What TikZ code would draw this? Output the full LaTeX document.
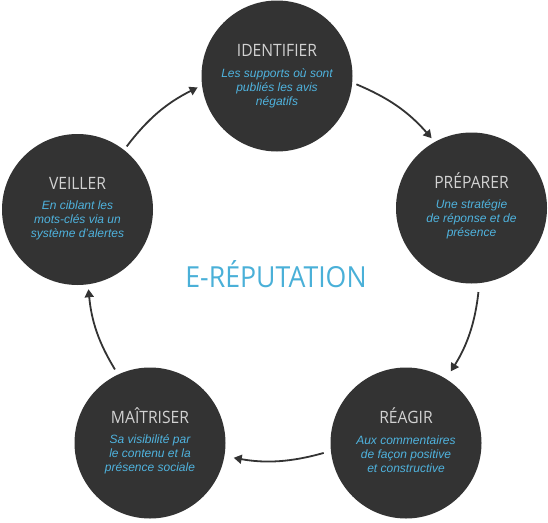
\documentclass[tikz,border=0pt]{standalone}
\usepackage{fontspec}
\setmainfont{Liberation Sans}
\newfontfamily\headfont[FakeStretch=0.92]{Open Sans}
\usetikzlibrary{arrows.meta,calc}
\definecolor{bubblefill}{HTML}{333333}
\definecolor{headgray}{HTML}{D2D2D2}
\definecolor{bodyblue}{HTML}{4FB3DE}
\definecolor{mainblue}{HTML}{4AB0D8}
\tikzset{
  bubble/.style={circle, fill=bubblefill, minimum size=151pt, inner sep=0pt, outer sep=0pt},
  headtext/.style={anchor=base, text=headgray, font=\headfont\fontsize{17}{17}\selectfont, inner sep=0pt},
  bodytext/.style={anchor=center, text=bodyblue, align=center, font=\itshape\fontsize{12}{14}\selectfont, inner sep=0pt},
  cyclearrow/.style={draw=bubblefill, line width=1.8pt, -{Triangle[length=8pt,width=9pt]}, bend left=13}
}
\begin{document}
\begin{tikzpicture}[x=1pt,y=-1pt]
\useasboundingbox (0,0) rectangle (548,522);
% circles
\node[bubble] (ident) at (277,76) {};
\node[bubble] (prep) at (471.5,208) {};
\node[bubble] (reag) at (406,443) {};
\node[bubble] (mait) at (150,443) {};
\node[bubble] (veil) at (77.5,209.5) {};
% titles
\node[headtext] (identT) at ($(ident.center)+(0,-20)$) {IDENTIFIER};
\node[headtext] (prepT) at ($(prep.center)+(0,-20)$) {PRÉPARER};
\node[headtext] (reagT) at ($(reag.center)+(0,-20)$) {RÉAGIR};
\node[headtext] (maitT) at ($(mait.center)+(0,-20)$) {MAÎTRISER};
\node[headtext] (veilT) at ($(veil.center)+(0,-20)$) {VEILLER};
% bodies
\node[bodytext] (identB) at ($(ident.center)+(0,12)$) {Les supports où sont\\publiés les avis\\négatifs};
\node[bodytext] (prepB) at ($(prep.center)+(0,11)$) {Une stratégie\\de réponse et de\\présence};
\node[bodytext] (reagB) at ($(reag.center)+(0,11)$) {Aux commentaires\\de façon positive\\et constructive};
\node[bodytext] (maitB) at ($(mait.center)+(0,11)$) {Sa visibilité par\\le contenu et la\\présence sociale};
\node[bodytext] (veilB) at ($(veil.center)+(0,11)$) {En ciblant les\\mots-clés via un\\système d'alertes};
% centre
\node[anchor=base, text=mainblue, inner sep=0pt, font=\headfont\fontsize{29}{29}\selectfont] (centre) at (276,287.3) {E-RÉPUTATION};
% arrows
\draw[cyclearrow, shorten <=4.5pt, shorten >=5pt] (veil.52.6) to (ident.187.8);
\draw[cyclearrow, shorten <=4.5pt, shorten >=5pt] (ident.-5) to (prep.119.4);
\draw[cyclearrow, shorten <=9pt, shorten >=9pt] (prep.-84.9) to (reag.58.8);
\draw[cyclearrow, shorten <=7.5pt, shorten >=9.5pt] (reag.186.3) to (mait.-10.9);
\draw[cyclearrow, shorten <=6pt, shorten >=5pt] (mait.115.6) to (veil.-82.8);
\end{tikzpicture}
\end{document}
